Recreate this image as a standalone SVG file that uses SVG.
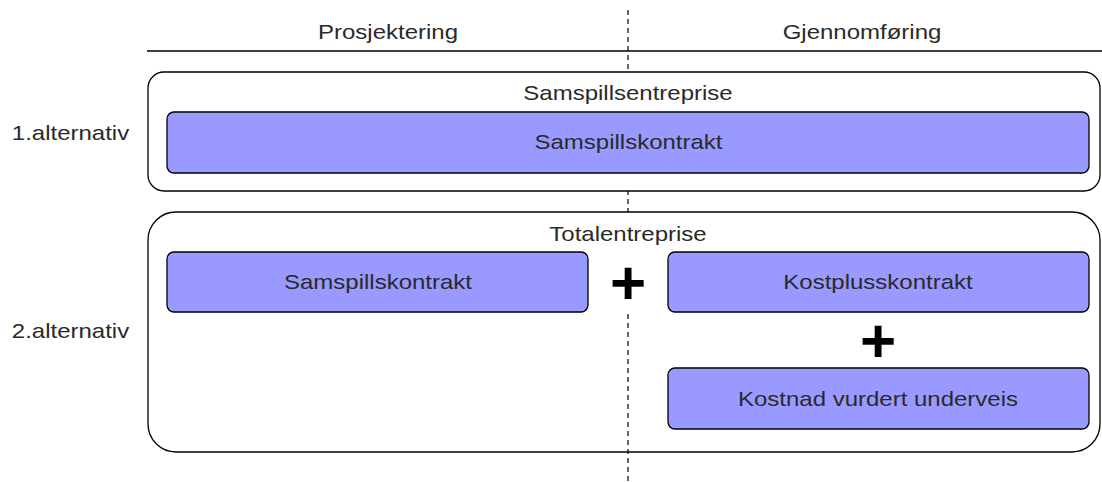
<svg xmlns="http://www.w3.org/2000/svg" width="1102" height="482" viewBox="0 0 1102 482">
  <style>
    text { font-family: "Liberation Sans", Arial, sans-serif; font-size: 20px; fill: #2a2a2a; text-anchor: middle; dominant-baseline: central; }
    .frame { fill: #ffffff; stroke: #000; stroke-width: 1.3; }
    .contract { fill: #9999ff; stroke: #000; stroke-width: 1.3; }
    .divider { stroke: #000; stroke-width: 1.2; stroke-dasharray: 5 4; fill: none; }
    .plus { font-size: 62px; font-weight: bold; fill: #000; }
  </style>
  <rect width="1102" height="482" fill="#ffffff"/>

  <!-- phase divider (runs behind the white frames) -->
  <line class="divider" x1="628" y1="10" x2="628" y2="212"/>

  <!-- phase header -->
  <g id="header">
    <text transform="translate(388 32) scale(1.2 1)">Prosjektering</text>
    <text transform="translate(862 32) scale(1.2 1)">Gjennomføring</text>
    <line x1="147" y1="51" x2="1102" y2="51" stroke="#000" stroke-width="1.3"/>
  </g>

  <!-- row labels -->
  <g id="row-labels">
    <text transform="translate(70.5 133) scale(1.2 1)">1.alternativ</text>
    <text transform="translate(70.5 331) scale(1.2 1)">2.alternativ</text>
  </g>

  <!-- alternative 1 -->
  <g id="samspillsentreprise">
    <rect class="frame" x="148" y="72" width="952" height="119" rx="16"/>
    <text transform="translate(628 93) scale(1.2 1)">Samspillsentreprise</text>
  </g>
  <g id="samspillskontrakt-1">
    <rect class="contract" x="167" y="112" width="922" height="61" rx="7"/>
    <text transform="translate(628.5 142) scale(1.2 1)">Samspillskontrakt</text>
  </g>

  <!-- alternative 2 -->
  <g id="totalentreprise">
    <rect class="frame" x="148" y="212" width="952" height="240" rx="28"/>
    <text transform="translate(628 234) scale(1.2 1)">Totalentreprise</text>
  </g>
  <g id="samspillskontrakt-2">
    <rect class="contract" x="167" y="252" width="421" height="60" rx="7"/>
    <text transform="translate(378 282) scale(1.2 1)">Samspillskontrakt</text>
  </g>
  <g id="kostplusskontrakt">
    <rect class="contract" x="668" y="252" width="421" height="60" rx="7"/>
    <text transform="translate(878 282) scale(1.2 1)">Kostplusskontrakt</text>
  </g>
  <g id="kostnad-vurdert">
    <rect class="contract" x="668" y="368" width="421" height="61" rx="7"/>
    <text transform="translate(878 399) scale(1.2 1)">Kostnad vurdert underveis</text>
  </g>

  <!-- lower divider segment and plus signs -->
  <g id="connectors">
    <line class="divider" x1="628" y1="314" x2="628" y2="482"/>
    <text class="plus" x="628" y="282">+</text>
    <text class="plus" x="878" y="340">+</text>
  </g>
</svg>
